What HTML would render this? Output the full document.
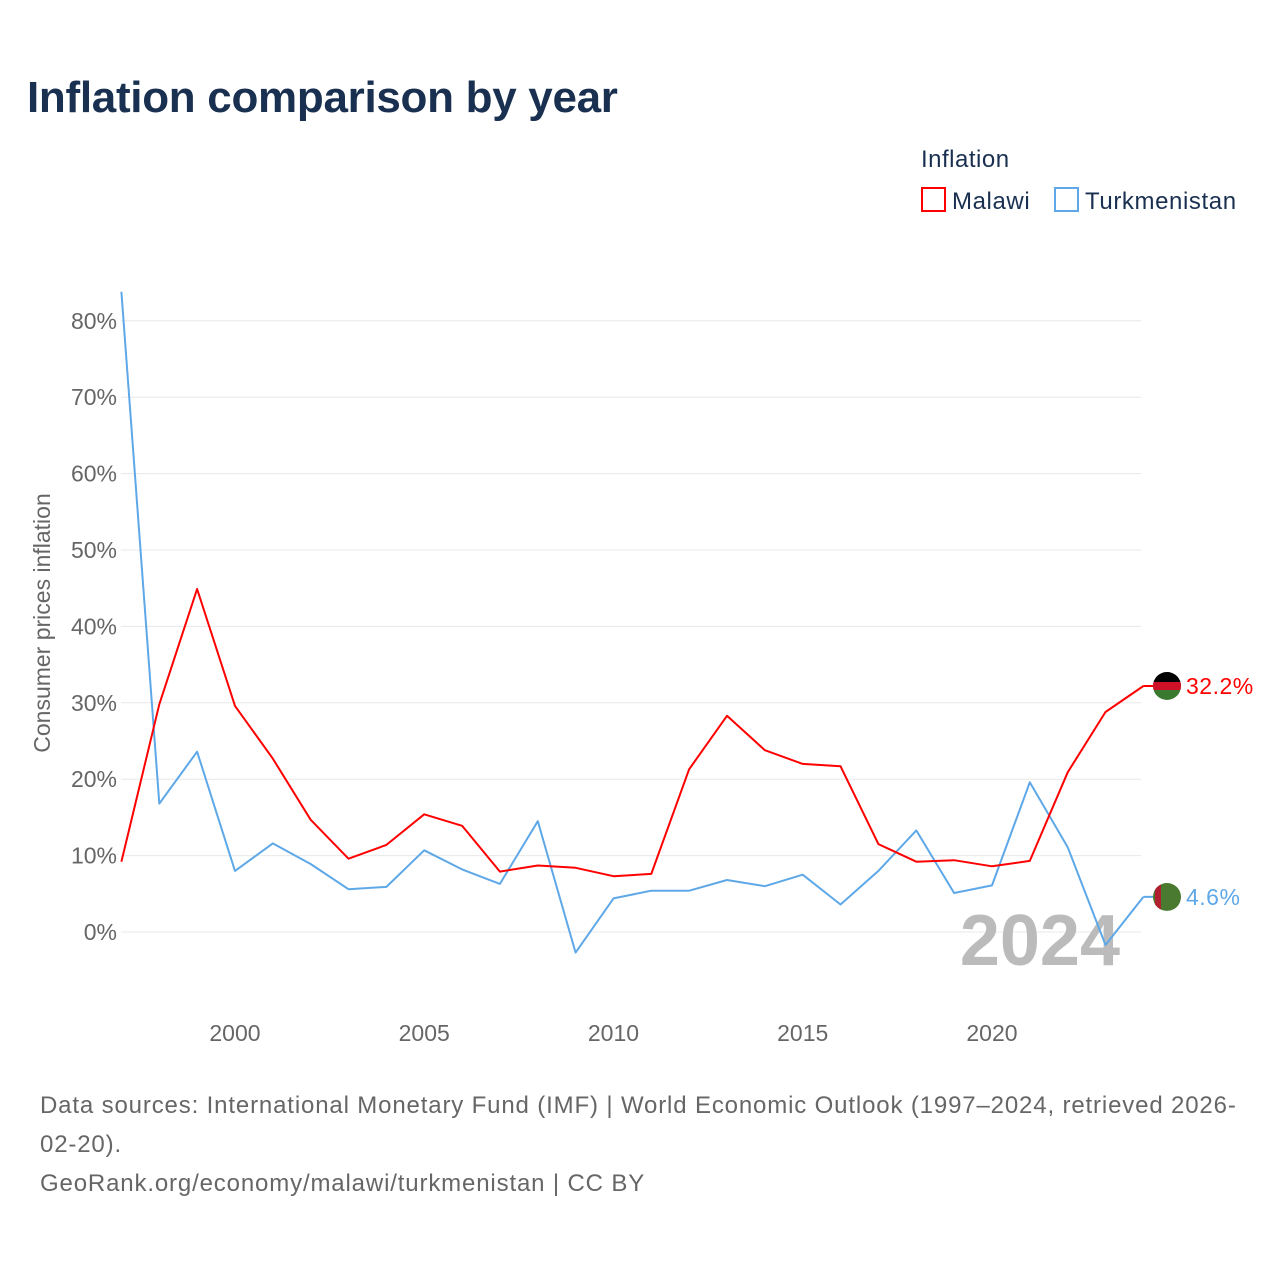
<!DOCTYPE html>
<html><head><meta charset="utf-8"><style>
body{margin:0;background:#fff;font-family:"Liberation Sans",sans-serif}
</style></head><body>
<svg width="1280" height="1280" viewBox="0 0 1280 1280" xmlns="http://www.w3.org/2000/svg">
<defs>
<clipPath id="c1"><circle cx="1167" cy="686" r="14"/></clipPath>
<clipPath id="c2"><circle cx="1167" cy="897" r="14"/></clipPath>
</defs>
<text x="27" y="112" font-size="44" font-weight="bold" fill="#1a3050" letter-spacing="-0.3">Inflation comparison by year</text>
<g>
<text x="921" y="167" font-size="24" fill="#1a3050" letter-spacing="0.5">Inflation</text>
<g><rect x="922" y="188" width="23" height="23" fill="none" stroke="#ff0000" stroke-width="2"/><text x="952" y="209" font-size="24" fill="#1a3050" letter-spacing="0.6">Malawi</text></g>
<g><rect x="1055" y="188" width="23" height="23" fill="none" stroke="#5ea8e8" stroke-width="2"/><text x="1085" y="209" font-size="24" fill="#1a3050" letter-spacing="0.6">Turkmenistan</text></g>
</g>
<g id="grid"></g>
<g id="yticks"></g>
<g id="xticks"></g>
<text transform="translate(50,623) rotate(-90)" text-anchor="middle" font-size="23" fill="#666">Consumer prices inflation</text>
<text x="1120" y="965" text-anchor="end" font-size="72" font-weight="bold" fill="#bbb">2024</text>
<g id="series"></g>
<g font-size="24" fill="#666" letter-spacing="0.85">
<text x="40" y="1113">Data sources: International Monetary Fund (IMF) | World Economic Outlook (1997–2024, retrieved 2026-</text>
<text x="40" y="1152">02-20).</text>
<text x="40" y="1191">GeoRank.org/economy/malawi/turkmenistan | CC BY</text>
</g>
</svg>
<script>
const years=[1997,1998,1999,2000,2001,2002,2003,2004,2005,2006,2007,2008,2009,2010,2011,2012,2013,2014,2015,2016,2017,2018,2019,2020,2021,2022,2023,2024];
const malawi=[9.2,29.8,44.9,29.6,22.7,14.7,9.6,11.4,15.4,13.9,7.9,8.7,8.4,7.3,7.6,21.3,28.3,23.8,22.0,21.7,11.5,9.2,9.4,8.6,9.3,20.9,28.8,32.2];
const turkmenistan=[83.8,16.8,23.6,8.0,11.6,8.9,5.6,5.9,10.7,8.2,6.3,14.5,-2.7,4.4,5.4,5.4,6.8,6.0,7.5,3.6,8.0,13.3,5.1,6.1,19.6,11.1,-1.7,4.6];
const yTicks=[0,10,20,30,40,50,60,70,80];
const xTicks=[2000,2005,2010,2015,2020];
const NS="http://www.w3.org/2000/svg";
const x=v=>121.4+(v-1997)*37.85;
const y=v=>932-v*7.64;
function mk(t,a,p){const e=document.createElementNS(NS,t);for(const k in a)e.setAttribute(k,a[k]);p.appendChild(e);return e;}
const grid=document.getElementById('grid'),yt=document.getElementById('yticks'),xt=document.getElementById('xticks'),ser=document.getElementById('series');
yTicks.forEach(v=>{
 const l=mk('line',{x1:121,x2:1141,y1:y(v),y2:y(v),stroke:'#e8e8e8','stroke-width':1},grid);
 
 
 const t=mk('text',{x:117,y:y(v)+8,'text-anchor':'end','font-size':23,fill:'#666'},yt);
 t.textContent=v+'%';
 
 
});
xTicks.forEach(v=>{
 const t=mk('text',{x:x(v),y:1041,'text-anchor':'middle','font-size':23,fill:'#666'},xt);
 t.textContent=v;
 
 
});
function line(data,color,name,clip){
 const d=data.map((v,i)=>(i?'L':'M')+x(years[i]).toFixed(1)+','+y(v).toFixed(1)).join('');
 const p=mk('path',{d:d,fill:'none',stroke:color,'stroke-width':2,'stroke-linejoin':'round'},ser);
 
 
 const last=data[data.length-1],ly=y(last),lx=x(years[years.length-1]);
 mk('line',{x1:lx,x2:lx+12,y1:ly,y2:ly,stroke:color,'stroke-width':2},ser);
 const g=mk('g',{'clip-path':'url(#'+clip+')'},ser);
 
 
 if(name==='malawi'){
  mk('rect',{x:1153,y:ly-14,width:28,height:28,fill:'#3a7a30'},g);
  mk('rect',{x:1153,y:ly-14,width:28,height:10,fill:'#000'},g);
  mk('rect',{x:1153,y:ly-4,width:28,height:8,fill:'#ce1126'},g);
 }else{
  mk('rect',{x:1153,y:ly-14,width:28,height:28,fill:'#4a7a30'},g);
  mk('rect',{x:1155,y:ly-14,width:6,height:28,fill:'#b02030'},g);
 }
 const t=mk('text',{x:1186,y:ly+8,'font-size':23,fill:color,'letter-spacing':0.5},ser);
 t.textContent=last.toFixed(1)+'%';
 
 
}
line(turkmenistan,'#5ea8e8','turkmenistan','c2');
line(malawi,'#ff0000','malawi','c1');
</script>
</body></html>
